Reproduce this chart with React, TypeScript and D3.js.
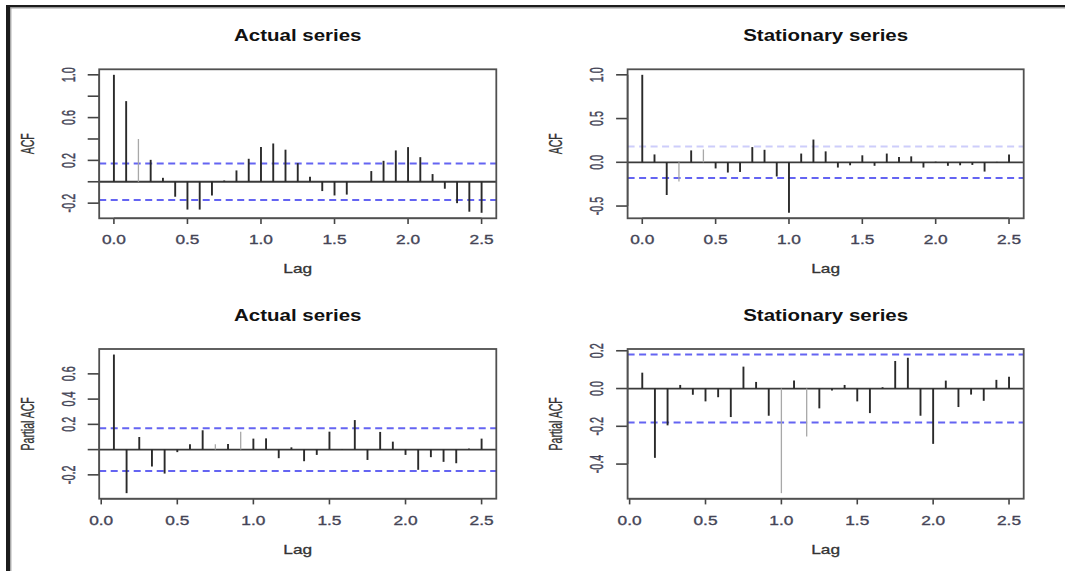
import React from "react";
import * as d3 from "d3";

// monthly series -> lags in years (frequency 12)
const acfLags = d3.range(0, 31).map((k) => k / 12);
const pacfLags = d3.range(1, 31).map((k) => k / 12);

const actualAcf = [
  1.0, 0.754, 0.4, 0.205, 0.037, -0.14, -0.26, -0.26, -0.128, 0.012, 0.106,
  0.215, 0.324, 0.358, 0.3, 0.174, 0.047, -0.087, -0.128, -0.12, -0.003, 0.1,
  0.196, 0.293, 0.324, 0.23, 0.072, -0.065, -0.2, -0.28, -0.29,
];
const stationaryAcf = [
  1.0, 0.09, -0.374, -0.22, 0.136, 0.147, -0.07, -0.117, -0.11, 0.174, 0.143,
  -0.162, -0.577, 0.1, 0.26, 0.125, -0.06, -0.034, 0.08, -0.04, 0.1, 0.06,
  0.068, -0.06, 0.007, -0.04, -0.034, -0.03, -0.106, 0.005, 0.09,
];
const actualPacf = [
  0.753, -0.345, 0.1, -0.134, -0.19, -0.02, 0.042, 0.153, 0.042, 0.045, 0.142,
  0.087, 0.089, -0.068, 0.018, -0.092, -0.042, 0.142, 0.003, 0.234, -0.082,
  0.14, 0.063, -0.042, -0.16, -0.06, -0.097, -0.108, 0.008, 0.087,
];
const stationaryPacf = [
  0.084, -0.367, -0.195, 0.019, -0.033, -0.068, -0.046, -0.151, 0.116, 0.035,
  -0.144, -0.554, 0.042, -0.254, -0.105, -0.01, 0.019, -0.068, -0.13, 0.007,
  0.146, 0.163, -0.144, -0.293, 0.042, -0.098, -0.032, -0.065, 0.046, 0.063,
];

// 95% bounds
const actualCi = 0.17;
const stationaryCi = 0.18;

const xTicks = [0, 0.5, 1, 1.5, 2, 2.5];
const actualAcfTicks = [-0.2, 0, 0.2, 0.4, 0.6, 0.8, 1.0];
const actualAcfLabels = [-0.2, 0.2, 0.6, 1.0];
const stationaryAcfTicks = [-0.5, 0, 0.5, 1.0];
const actualPacfTicks = [-0.2, 0, 0.2, 0.4, 0.6];
const actualPacfLabels = [-0.2, 0.2, 0.4, 0.6];
const stationaryPacfTicks = [-0.4, -0.2, 0, 0.2];

// spikes that look washed out in the original scan (index into the series)
const faintActualAcf = [2];
const faintStationaryAcf = [3, 5];
const faintActualPacf = [8, 10];
const faintStationaryPacf = [11, 13];

const FONT = "'Liberation Sans', Arial, Helvetica, sans-serif";
const SX = 1.28; // the scan is stretched sideways

type Box = { x0: number; x1: number; y0: number; y1: number };

type PanelProps = {
  lags: number[];
  values: number[];
  ci: number;
  yTicks: number[];
  yLabels: number[];
  title: string;
  yTitle: string;
  box: Box;
  faint: number[];
  faintUpper?: boolean;
};

function Panel({ lags, values, ci, yTicks, yLabels, title, yTitle, box, faint, faintUpper }: PanelProps) {
  const { x0, x1, y0, y1 } = box;

  // R style: 4% extension of the data range
  const [lmin, lmax] = d3.extent(lags) as [number, number];
  const xPad = (lmax - lmin) * 0.04;
  const x = d3.scaleLinear().domain([lmin - xPad, lmax + xPad]).range([x0, x1]);

  const lo = Math.min(d3.min(values) as number, -ci);
  const hi = Math.max(d3.max(values) as number, ci);
  const yPad = (hi - lo) * 0.04;
  const y = d3.scaleLinear().domain([lo - yPad, hi + yPad]).range([y1, y0]);

  const cx = (x0 + x1) / 2;
  const cy = (y0 + y1) / 2;
  const fmt = (v: number) => (Math.abs(v) < 1e-9 ? "0.0" : v.toFixed(1));
  const tickText = { fontFamily: FONT, fontSize: 13.5, fill: "#444456", stroke: "#444456", strokeWidth: 0.35 };

  return (
    <g>
      {/* title */}
      <text
        transform={`translate(${cx},${y0 - 28.5}) scale(${SX},1)`}
        textAnchor="middle"
        fontFamily={FONT}
        fontWeight="bold"
        fontSize={16}
        fill="#111"
      >
        {title}
      </text>

      {/* confidence bounds */}
      {[ci, -ci].map((c, i) => (
        <line
          key={i}
          x1={x0}
          x2={x1}
          y1={y(c)}
          y2={y(c)}
          stroke="#5c5cf2"
          strokeWidth={2}
          strokeDasharray="7 4.5"
          opacity={faintUpper && c > 0 ? 0.3 : 0.95}
        />
      ))}

      {/* zero line */}
      <line x1={x0} x2={x1} y1={y(0)} y2={y(0)} stroke="#3a3a3a" strokeWidth={1.8} />

      {/* spikes */}
      {values.map((v, i) => (
        <line
          key={i}
          x1={x(lags[i])}
          x2={x(lags[i])}
          y1={y(0)}
          y2={y(v)}
          stroke={faint.includes(i) ? "#a8a8a8" : "#2a2a2a"}
          strokeWidth={faint.includes(i) ? 1.3 : 1.9}
        />
      ))}

      {/* y axis */}
      <line
        x1={x0}
        x2={x0}
        y1={y(d3.min(yTicks) as number)}
        y2={y(d3.max(yTicks) as number)}
        stroke="#444"
        strokeWidth={1.5}
      />
      {yTicks.map((t) => (
        <line key={t} x1={x0 - 11.5} x2={x0} y1={y(t)} y2={y(t)} stroke="#444" strokeWidth={1.6} />
      ))}
      {yLabels.map((t) => (
        <text
          key={t}
          transform={`translate(${x0 - 24.5},${y(t)}) rotate(-90) scale(0.8,1.3)`}
          textAnchor="middle"
          {...tickText}
        >
          {fmt(t)}
        </text>
      ))}
      <text
        transform={`translate(${x0 - 65.5},${cy}) rotate(-90) scale(0.78,1.3)`}
        textAnchor="middle"
        fontFamily={FONT}
        fontSize={13.5}
        fill="#333"
        stroke="#333"
        strokeWidth={0.25}
      >
        {yTitle}
      </text>

      {/* x axis */}
      <line x1={x(0)} x2={x(2.5)} y1={y1} y2={y1} stroke="#444" strokeWidth={1.5} />
      {xTicks.map((t) => (
        <g key={t}>
          <line x1={x(t)} x2={x(t)} y1={y1} y2={y1 + 5.7} stroke="#444" strokeWidth={1.6} />
          <text
            transform={`translate(${x(t)},${y1 + 26}) scale(${SX},1)`}
            textAnchor="middle"
            {...tickText}
          >
            {t.toFixed(1)}
          </text>
        </g>
      ))}
      <text
        transform={`translate(${cx},${y1 + 55}) scale(${SX},1)`}
        textAnchor="middle"
        fontFamily={FONT}
        fontSize={13.5}
        fill="#333"
        stroke="#333"
        strokeWidth={0.3}
      >
        Lag
      </text>

      {/* frame of the plot region */}
      <rect x={x0} y={y0} width={x1 - x0} height={y1 - y0} fill="none" stroke="#505050" strokeWidth={1.8} />
    </g>
  );
}

export default function App() {
  const left = { x0: 99.2, x1: 496.3 };
  const right = { x0: 627.6, x1: 1023.7 };
  const top = { y0: 69.3, y1: 218.3 };
  const bottom = { y0: 349, y1: 498.7 };

  return (
    <svg
      width={1065}
      height={571}
      style={{ position: "absolute", left: 0, top: 0, background: "#fff" }}
    >
      <rect width={1065} height={571} fill="#fff" />
      {/* scan border */}
      <rect x={6} y={5} width={1059} height={2.6} fill="#1c1c1c" />
      <rect x={6} y={7.6} width={1059} height={1.4} fill="#cfcfcf" />
      <rect x={6} y={5} width={4.2} height={566} fill="#1c1c1c" />
      <rect x={10.2} y={7.6} width={1.2} height={563.4} fill="#a0a0a0" />

      <Panel
        lags={acfLags}
        values={actualAcf}
        ci={actualCi}
        yTicks={actualAcfTicks}
        yLabels={actualAcfLabels}
        title="Actual series"
        yTitle="ACF"
        box={{ ...left, ...top }}
        faint={faintActualAcf}
      />
      <Panel
        lags={acfLags}
        values={stationaryAcf}
        ci={stationaryCi}
        yTicks={stationaryAcfTicks}
        yLabels={stationaryAcfTicks}
        title="Stationary series"
        yTitle="ACF"
        box={{ ...right, ...top }}
        faint={faintStationaryAcf}
        faintUpper
      />
      <Panel
        lags={pacfLags}
        values={actualPacf}
        ci={actualCi}
        yTicks={actualPacfTicks}
        yLabels={actualPacfLabels}
        title="Actual series"
        yTitle="Partial ACF"
        box={{ ...left, ...bottom }}
        faint={faintActualPacf}
      />
      <Panel
        lags={pacfLags}
        values={stationaryPacf}
        ci={stationaryCi}
        yTicks={stationaryPacfTicks}
        yLabels={stationaryPacfTicks}
        title="Stationary series"
        yTitle="Partial ACF"
        box={{ ...right, ...bottom }}
        faint={faintStationaryPacf}
      />
    </svg>
  );
}
